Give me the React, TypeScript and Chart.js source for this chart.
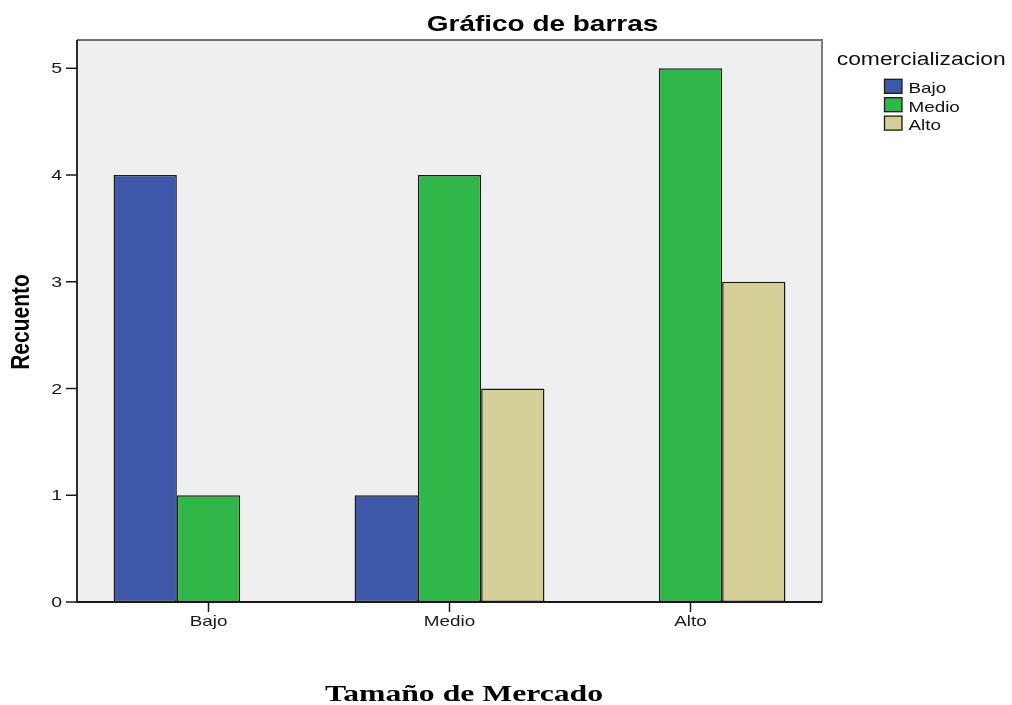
import React, { useEffect, useRef } from "react";
import { Chart, registerables } from "chart.js";

Chart.register(...registerables);

const categories = ["Bajo", "Medio", "Alto"];
const seriesNames = ["Bajo", "Medio", "Alto"];
const serieBajo = [4, 1, 0];
const serieMedio = [1, 4, 5];
const serieAlto = [0, 2, 3];
const yTicks = [0, 1, 2, 3, 4, 5];
const seriesColors = ["#3d57a9", "#2fb74a", "#d4cf97"];

const chartTitle = "Gráfico de barras";
const yTitle = "Recuento";
const xTitle = "Tamaño de Mercado";
const legendTitle = "comercializacion";

const SX = 1.3;

function drawText(
  ctx: CanvasRenderingContext2D,
  text: string,
  x: number,
  y: number,
  font: string,
  align: CanvasTextAlign,
  baseline: CanvasTextBaseline,
  sx: number,
  color = "#000"
) {
  ctx.save();
  ctx.translate(x, y);
  ctx.scale(sx, 1);
  ctx.font = font;
  ctx.fillStyle = color;
  ctx.textAlign = align;
  ctx.textBaseline = baseline;
  ctx.fillText(text, 0, 0);
  ctx.restore();
}

const spssPlugin = {
  id: "spss",
  beforeDatasetsDraw(chart: any) {
    const { ctx, chartArea } = chart;
    const l = chartArea.left - 11;
    const r = chartArea.right + 11;
    ctx.save();
    ctx.fillStyle = "#efefef";
    ctx.fillRect(l, chartArea.top, r - l, chartArea.bottom - chartArea.top);
    ctx.restore();
  },
  afterDatasetsDraw(chart: any) {
    const { ctx, chartArea, scales } = chart;
    const l = chartArea.left - 11;
    const r = chartArea.right + 11;
    const t = chartArea.top;
    const b = chartArea.bottom;
    ctx.save();
    ctx.strokeStyle = "#707070";
    ctx.lineWidth = 1.8;
    ctx.beginPath();
    ctx.moveTo(l, t);
    ctx.lineTo(r, t);
    ctx.lineTo(r, b);
    ctx.stroke();
    ctx.strokeStyle = "#1a1a1a";
    ctx.lineWidth = 1.8;
    ctx.beginPath();
    ctx.moveTo(l, t);
    ctx.lineTo(l, b);
    ctx.lineTo(r, b);
    ctx.stroke();
    const ys = scales.y;
    ctx.lineWidth = 1.5;
    yTicks.forEach((v) => {
      const py = ys.getPixelForValue(v);
      ctx.beginPath();
      ctx.moveTo(l - 11, py);
      ctx.lineTo(l, py);
      ctx.stroke();
      drawText(ctx, String(v), l - 15, py + 1, "15px 'Liberation Sans', Arial, sans-serif", "right", "middle", SX, "#1a1a1a");
    });
    const xs = scales.x;
    categories.forEach((c, i) => {
      const px = xs.getPixelForValue(i);
      ctx.beginPath();
      ctx.moveTo(px, b);
      ctx.lineTo(px, b + 10);
      ctx.stroke();
      drawText(ctx, c, px, b + 20, "14.5px 'Liberation Sans', Arial, sans-serif", "center", "middle", SX, "#1a1a1a");
    });
    ctx.restore();

    drawText(ctx, chartTitle, 542.5, 30.5, "bold 21.5px 'Liberation Sans', Arial, sans-serif", "center", "alphabetic", SX);
    drawText(ctx, xTitle, 464, 701, "bold 24px 'Liberation Serif', 'Times New Roman', serif", "center", "alphabetic", 1.32);
    ctx.save();
    ctx.translate(22, 322);
    ctx.rotate(-Math.PI / 2);
    ctx.scale(1.05, SX);
    ctx.font = "bold 20px 'Liberation Sans', Arial, sans-serif";
    ctx.fillStyle = "#000";
    ctx.textAlign = "center";
    ctx.textBaseline = "middle";
    ctx.fillText(yTitle, 0, 0);
    ctx.restore();

    drawText(ctx, legendTitle, 836.7, 65, "18px 'Liberation Sans', Arial, sans-serif", "left", "alphabetic", 1.27, "#111");
    chart.data.datasets.forEach((ds: any, i: number) => {
      const top = 79.3 + i * 18.4;
      ctx.save();
      ctx.fillStyle = ds.backgroundColor;
      ctx.fillRect(884.5, top, 17.5, 14);
      ctx.strokeStyle = "#1a1a1a";
      ctx.lineWidth = 1.3;
      ctx.strokeRect(884.5, top, 17.5, 14);
      ctx.restore();
      drawText(ctx, ds.label, 908.5, top + 14, "14.5px 'Liberation Sans', Arial, sans-serif", "left", "alphabetic", SX, "#111");
    });
  },
};

export default function App() {
  const ref = useRef<HTMLCanvasElement | null>(null);
  useEffect(() => {
    if (!ref.current) return;
    const values = [serieBajo, serieMedio, serieAlto];
    const chart = new Chart(ref.current, {
      type: "bar",
      data: {
        labels: categories,
        datasets: seriesNames.map((name, i) => ({
          label: name,
          data: values[i],
          backgroundColor: seriesColors[i],
          borderColor: "#1a1a1a",
          borderWidth: 1.5,
          borderSkipped: false,
          categoryPercentage: 0.788,
          barPercentage: 1,
        })),
      },
      options: {
        animation: false,
        responsive: false,
        devicePixelRatio: 1,
        layout: { padding: { left: 88, right: 201, top: 40, bottom: 103 } },
        plugins: {
          legend: { display: false },
          title: { display: false },
          tooltip: { enabled: false },
        },
        scales: {
          x: { display: false },
          y: { display: false, min: 0, max: 5.265 },
        },
      },
      plugins: [spssPlugin],
    });
    return () => chart.destroy();
  }, []);
  return (
    <div style={{ position: "absolute", left: 0, top: 0, width: 1012, height: 705, background: "#fff" }}>
      <canvas ref={ref} width={1012} height={705} style={{ width: 1012, height: 705, display: "block" }} />
    </div>
  );
}
